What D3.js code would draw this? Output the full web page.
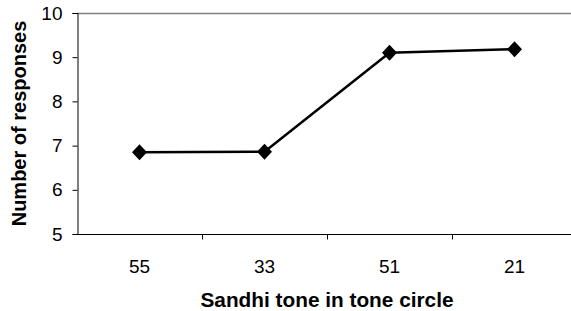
<!DOCTYPE html>
<html>
<head>
<meta charset="utf-8">
<script src="https://cdn.jsdelivr.net/npm/d3@7"></script>
<style>
  body { margin: 0; background: #fff; }
  svg { display: block; font-family: "Liberation Sans", Arial, sans-serif; }
</style>
</head>
<body>
<div id="chart"></div>
<script>
// data
var tones = ["55", "33", "51", "21"];
var responses = [6.85, 6.86, 9.1, 9.18];
var yTicks = [5, 6, 7, 8, 9, 10];

var width = 571, height = 311;
var mLeft = 77, mTop = 13, plotW = 500, plotH = 221;

var svg = d3.select('#chart').append('svg')
        .attr('width', width)
        .attr('height', height);

var x = d3.scaleBand().domain(tones).range([mLeft, mLeft + plotW]);
var y = d3.scaleLinear().domain([5, 10]).range([mTop + plotH, mTop]);

// grey top border of plot area
svg.append('line')
        .attr('x1', mLeft).attr('x2', mLeft + plotW)
        .attr('y1', y(10) + 0.5).attr('y2', y(10) + 0.5)
        .attr('stroke', '#808080').attr('stroke-width', 1.5);

// y axis
var yAxis = svg.append('g')
        .attr('transform', 'translate(' + (mLeft + 0.5) + ',0)')
        .call(d3.axisLeft(y).tickValues(yTicks).tickFormat(d3.format('d'))
                .tickSize(5).tickPadding(10));
yAxis.selectAll('text').style('font-size', '19px').attr('fill', '#000');
yAxis.select('.domain').attr('stroke', '#000');
yAxis.selectAll('.tick line').attr('stroke', '#000');

// x axis, ticks between categories
var xAxis = svg.append('g')
        .attr('transform', 'translate(0,' + (mTop + plotH + 0.5) + ')');
xAxis.append('line')
        .attr('x1', mLeft).attr('x2', mLeft + plotW)
        .attr('stroke', '#000');
xAxis.selectAll('.tk')
        .data(tones.slice(1))
        .enter().append('line')
        .attr('x1', (d) => Math.round(x(d)) + 0.5)
        .attr('x2', (d) => Math.round(x(d)) + 0.5)
        .attr('y1', 0).attr('y2', 5)
        .attr('stroke', '#000');
xAxis.selectAll('text')
        .data(tones)
        .enter().append('text')
        .attr('x', (d) => x(d) + x.bandwidth() / 2)
        .attr('y', 38.5)
        .attr('text-anchor', 'middle')
        .style('font-size', '19px')
        .text((d) => d);

// series line
var cx = (d, i) => x(tones[i]) + x.bandwidth() / 2;
svg.append('path')
        .datum(responses)
        .attr('fill', 'none')
        .attr('stroke', '#000')
        .attr('stroke-width', 2.5)
        .attr('d', d3.line().x(cx).y((d) => y(d)));

// diamond markers
svg.selectAll('.mk')
        .data(responses)
        .enter().append('path')
        .attr('transform', (d, i) => 'translate(' + cx(d, i) + ',' + y(d) + ')')
        .attr('d', 'M0,-8L7.5,0L0,8L-7.5,0Z')
        .attr('fill', '#000');

// axis titles
svg.append('text')
        .attr('x', mLeft + plotW / 2)
        .attr('y', 306.5)
        .attr('text-anchor', 'middle')
        .style('font-size', '20.8px')
        .style('font-weight', 'bold')
        .text('Sandhi tone in tone circle');

svg.append('text')
        .attr('transform', 'translate(26,' + (mTop + plotH / 2) + ') rotate(-90)')
        .attr('text-anchor', 'middle')
        .style('font-size', '20px')
        .style('font-weight', 'bold')
        .text('Number of responses');
</script>
</body>
</html>
